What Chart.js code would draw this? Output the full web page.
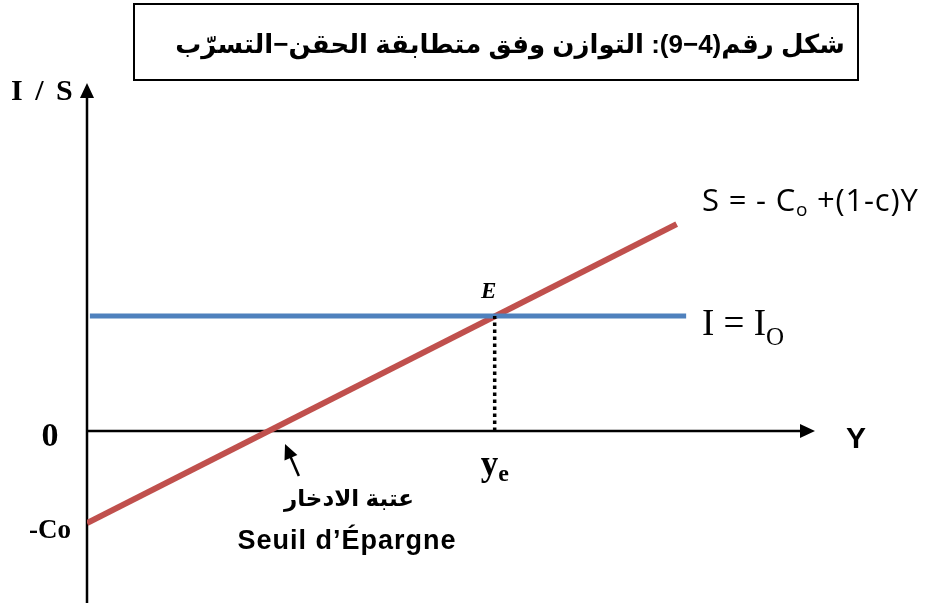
<!DOCTYPE html>
<html>
<head>
<meta charset="utf-8">
<script src="https://cdn.jsdelivr.net/npm/chart.js@4.4.1/dist/chart.umd.min.js"></script>
<style>
  html, body { margin: 0; padding: 0; background: #fff; }
  #wrap { width: 926px; height: 605px; }
</style>
</head>
<body>
<div id="wrap"><canvas id="myChart" width="926" height="605"></canvas></div>
<script>
// valeurs (unites arbitraires)
var incomeAxis = [0, 10];          // Y
var flowAxis = [-3.74, 7.57];      // I / S
var savingY = [0, 8.1];
var savingS = [-2, 4.5];
var investY = [0.04, 8.23];
var investI = [2.5, 2.5];
var equilY = [5.6, 5.6];
var equilI = [0, 2.5];

var titleText = 'شكل رقم(4−9): التوازن وفق متطابقة الحقن−التسرّب';

var pts = (xs, ys) => xs.map((x, i) => ({ x: x, y: ys[i] }));

// texte avec indice
var textSub = (ctx, x, y, main, sub, font, subFont, dy) => {
  ctx.font = font;
  ctx.fillText(main, x, y);
  var w = ctx.measureText(main).width;
  ctx.font = subFont;
  ctx.fillText(sub, x + w, y + dy);
};

var diagram = {
  id: 'diagram',
  beforeDatasetsDraw: (chart) => {
    var ctx = chart.ctx;
    var xs = chart.scales.x, ys = chart.scales.y;
    var x0 = xs.getPixelForValue(0), y0 = ys.getPixelForValue(0);
    var xEnd = xs.getPixelForValue(incomeAxis[1]);
    var yTop = ys.getPixelForValue(flowAxis[1]);
    var yBot = ys.getPixelForValue(flowAxis[0]);
    ctx.save();
    ctx.strokeStyle = '#000';
    ctx.fillStyle = '#000';
    ctx.lineWidth = 2.5;
    ctx.beginPath();
    ctx.moveTo(x0, yBot);
    ctx.lineTo(x0, yTop + 10);
    ctx.moveTo(x0, y0);
    ctx.lineTo(xEnd - 10, y0);
    ctx.stroke();
    // fleches
    ctx.beginPath();
    ctx.moveTo(x0, yTop);
    ctx.lineTo(x0 - 7, yTop + 15);
    ctx.lineTo(x0 + 7, yTop + 15);
    ctx.closePath();
    ctx.fill();
    ctx.beginPath();
    ctx.moveTo(xEnd, y0);
    ctx.lineTo(xEnd - 15, y0 - 7);
    ctx.lineTo(xEnd - 15, y0 + 7);
    ctx.closePath();
    ctx.fill();
    ctx.restore();
  },
  afterDraw: (chart) => {
    var ctx = chart.ctx;
    var xs = chart.scales.x, ys = chart.scales.y;
    var x0 = xs.getPixelForValue(0), y0 = ys.getPixelForValue(0);
    ctx.save();
    ctx.fillStyle = '#000';
    ctx.strokeStyle = '#000';

    // cadre du titre
    ctx.lineWidth = 2;
    ctx.strokeRect(134, 4, 724, 76);
    ctx.textBaseline = 'middle';
    ctx.textAlign = 'center';
    ctx.font = 'bold 26px "Liberation Sans", "DejaVu Sans"';
    ctx.fillText(titleText, 510, 46);

    ctx.textBaseline = 'alphabetic';

    // axes
    ctx.textAlign = 'left';
    ctx.font = 'bold 30px "Liberation Serif"';
    ctx.letterSpacing = '2.5px';
    ctx.fillText('I / S', 11, 100);
    ctx.letterSpacing = '0px';
    ctx.textAlign = 'center';
    ctx.font = 'bold 34px "Liberation Serif"';
    ctx.fillText('0', 50, y0 + 15);
    ctx.font = 'bold 27px "Liberation Serif"';
    ctx.fillText('-Co', 50, 538);
    ctx.font = 'bold 30px "Liberation Sans"';
    ctx.fillText('Y', 856, 448);

    // point E et ye
    var xe = xs.getPixelForValue(equilY[0]);
    var ye = ys.getPixelForValue(equilI[1]);
    ctx.font = 'bold italic 23px "Liberation Serif"';
    ctx.fillText('E', xe - 6, ye - 18);
    ctx.textAlign = 'left';
    textSub(ctx, xe - 14, y0 + 44, 'y', 'e', 'bold 35px "Liberation Serif"', 'bold 24px "Liberation Serif"', 6);

    // equations
    textSub(ctx, 702, 335, 'I = I', 'O', '37px "Liberation Serif"', '25px "Liberation Serif"', 10);
    var eqFont = '31px "Open Sans"';
    ctx.letterSpacing = '0.8px';
    ctx.font = eqFont;
    var s1 = 'S = - C';
    ctx.fillText(s1, 702, 211);
    var w1 = ctx.measureText(s1).width;
    ctx.font = '19px "Open Sans"';
    ctx.fillText('o', 702 + w1, 216);
    var w2 = ctx.measureText('o').width;
    ctx.font = eqFont;
    ctx.fillText(' +(1-c)Y', 702 + w1 + w2, 211);
    ctx.letterSpacing = '0px';

    // seuil d'epargne
    var ax = xs.getPixelForValue(2.72), ay = ys.getPixelForValue(-0.28);
    var tx = xs.getPixelForValue(2.91), ty = ys.getPixelForValue(-0.98);
    var ang = Math.atan2(ay - ty, ax - tx);
    ctx.lineWidth = 2.5;
    ctx.beginPath();
    ctx.moveTo(tx, ty);
    ctx.lineTo(ax - 8 * Math.cos(ang), ay - 8 * Math.sin(ang));
    ctx.stroke();
    ctx.beginPath();
    ctx.moveTo(ax, ay);
    ctx.lineTo(ax - 15 * Math.cos(ang) + 7 * Math.sin(ang), ay - 15 * Math.sin(ang) - 7 * Math.cos(ang));
    ctx.lineTo(ax - 15 * Math.cos(ang) - 7 * Math.sin(ang), ay - 15 * Math.sin(ang) + 7 * Math.cos(ang));
    ctx.closePath();
    ctx.fill();
    ctx.textAlign = 'center';
    ctx.font = 'bold 23px "Liberation Sans", "DejaVu Sans"';
    ctx.fillText('عتبة الادخار', 349, 506);
    ctx.font = 'bold 27px "Liberation Sans"';
    ctx.letterSpacing = '1px';
    ctx.fillText('Seuil d’Épargne', 347, 549);
    ctx.letterSpacing = '0px';
    ctx.restore();
  }
};

var ctx = document.getElementById('myChart').getContext('2d');
var chart = new Chart(ctx, {
  type: 'scatter',
  data: {
    datasets: [
      {
        label: 'equilibre',
        data: pts(equilY, equilI),
        showLine: true,
        borderColor: '#000',
        borderWidth: 3.5,
        borderDash: [3.5, 3.5],
        pointRadius: 0
      },
      {
        label: 'I',
        data: pts(investY, investI),
        showLine: true,
        borderColor: '#4F81BD',
        borderWidth: 5,
        pointRadius: 0
      },
      {
        label: 'S',
        data: pts(savingY, savingS),
        showLine: true,
        borderColor: '#C0504D',
        borderWidth: 6,
        pointRadius: 0
      }
    ]
  },
  options: {
    responsive: false,
    animation: false,
    layout: { padding: { left: 87, right: 111, top: 83, bottom: 2 } },
    plugins: {
      legend: { display: false },
      title: { display: false },
      tooltip: { enabled: false }
    },
    scales: {
      x: { type: 'linear', min: incomeAxis[0], max: incomeAxis[1], display: false },
      y: { type: 'linear', min: flowAxis[0], max: flowAxis[1], display: false }
    }
  },
  plugins: [diagram]
});
</script>
</body>
</html>
